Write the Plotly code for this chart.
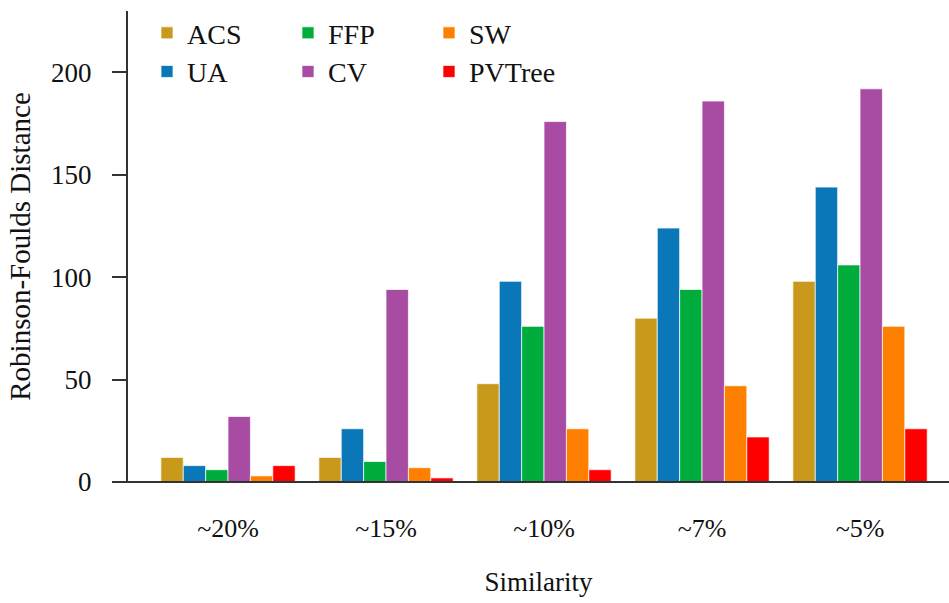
import plotly.graph_objects as go

categories = ["~20%", "~15%", "~10%", "~7%", "~5%"]
series_names = ["ACS", "UA", "FFP", "CV", "SW", "PVTree"]
acs = [12, 12, 48, 80, 98]
ua = [8, 26, 98, 124, 144]
ffp = [6, 10, 76, 94, 106]
cv = [32, 94, 176, 186, 192]
sw = [3, 7, 26, 47, 76]
pvtree = [8, 2, 6, 22, 26]
y_ticks = [0, 50, 100, 150, 200]

values = [acs, ua, ffp, cv, sw, pvtree]
colors = ["#C8991A", "#0A78B8", "#00AC3C", "#A84BA3", "#FF8000", "#FF0000"]
legend_ids = ["legend", "legend2", "legend", "legend2", "legend", "legend2"]

FONT = "'Liberation Serif', 'Times New Roman', serif"

fig = go.Figure()
for name, vals, col, lg in zip(series_names, values, colors, legend_ids):
    fig.add_trace(go.Bar(
        x=categories, y=vals, name=name,
        marker=dict(color=col, line=dict(color="rgba(255,255,255,0.7)", width=1)),
        legend=lg,
    ))

W, H = 949, 603
ml, mr, mt, mb = 128, 0, 11, 121
pw = W - ml - mr

legend_common = dict(
    orientation="h", xanchor="left", yanchor="middle",
    font=dict(family=FONT, size=28, color="#111"),
    bgcolor="rgba(0,0,0,0)", entrywidth=96, entrywidthmode="pixels",
    itemclick=False, tracegroupgap=0,
)

fig.update_layout(
    width=W, height=H,
    margin=dict(l=ml, r=mr, t=mt, b=mb),
    paper_bgcolor="white", plot_bgcolor="white",
    barmode="group", bargap=0.15, bargroupgap=0.0,
    font=dict(family=FONT, size=26, color="#111"),
    legend=dict(x=(147 - ml) / pw, y=0.953, **legend_common),
    legend2=dict(x=(147 - ml) / pw, y=0.871, **legend_common),
    xaxis=dict(
        type="category", range=[-0.633, 4.563],
        showline=False, ticks="", showgrid=False, zeroline=False,
        tickfont=dict(family=FONT, size=26, color="#111"),
        ticklabelstandoff=28,
        title=dict(text="Similarity", font=dict(family=FONT, size=27, color="#111"), standoff=30),
    ),
    yaxis=dict(
        range=[0, 230], tickvals=y_ticks,
        showline=True, linecolor="#333", linewidth=2,
        ticks="outside", ticklen=14, tickwidth=2, tickcolor="#333",
        showgrid=False, zeroline=False,
        tickfont=dict(family=FONT, size=27, color="#111"),
        ticklabelstandoff=15,
        title=dict(text="Robinson-Foulds Distance", font=dict(family=FONT, size=29, color="#111"), standoff=12),
    ),
)

fig.add_shape(type="line", xref="paper", yref="paper",
              x0=-14 / pw, x1=1, y0=0, y1=0,
              line=dict(color="#333", width=2), layer="above")

fig.write_html("out.html")
